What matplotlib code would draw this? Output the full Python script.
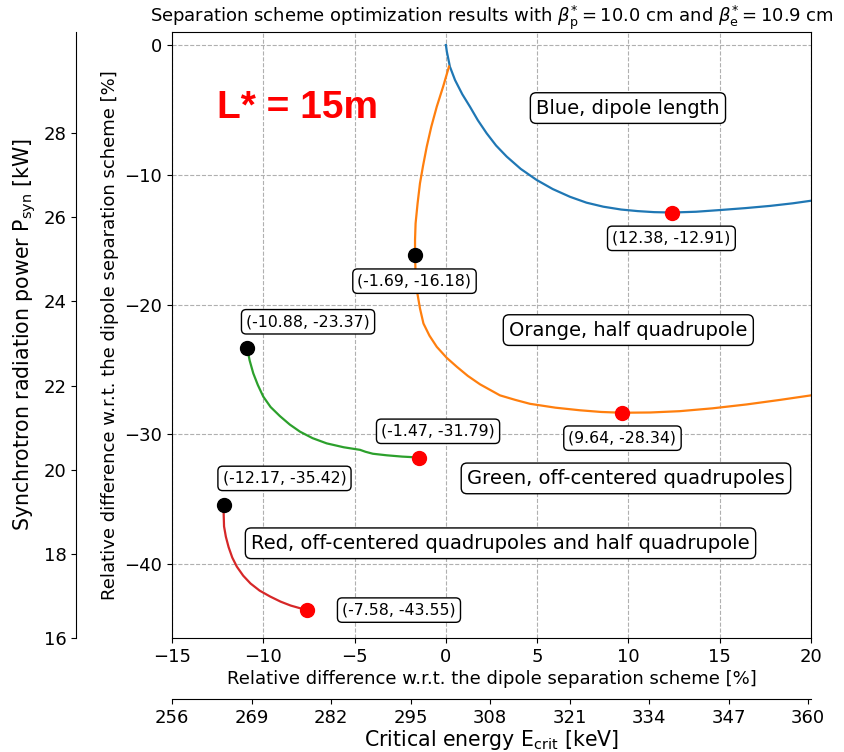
import matplotlib
matplotlib.use("Agg")
import matplotlib.pyplot as plt
import numpy as np

# ---- data ----
blue_x = [0.0, 0.05, 0.22, 0.5, 0.9, 1.32, 1.75, 2.23, 2.75, 3.33, 4.1, 4.97, 5.85, 6.8, 7.7,
          8.62, 9.6, 10.5, 11.4, 12.38, 13.7, 15.0, 16.4, 17.75, 19.0, 20.0]
blue_y = [0.0, -0.5, -1.67, -2.7, -3.8, -4.76, -5.8, -6.8, -7.75, -8.6, -9.55, -10.4, -11.1, -11.7, -12.15,
          -12.46, -12.68, -12.8, -12.88, -12.91, -12.85, -12.72, -12.57, -12.4, -12.2, -12.0]

orange_x = [0.17, -0.15, -0.5, -0.8, -1.05, -1.25, -1.42, -1.55, -1.66, -1.69, -1.69, -1.66, -1.56,
            -1.42, -1.23, -0.9, -0.5, 0.04, 0.6, 1.2, 1.87, 2.96, 3.8, 4.6, 6.0, 7.34, 8.5, 9.64,
            11.2, 12.8, 14.6, 16.47, 18.3, 20.0]
orange_y = [-1.66, -3.2, -4.75, -6.3, -7.84, -9.3, -10.66, -12.2, -13.75, -15.0, -16.18, -17.7, -19.15,
            -20.3, -21.46, -22.4, -23.26, -24.1, -24.8, -25.5, -26.15, -27.0, -27.35, -27.65, -27.95,
            -28.15, -28.28, -28.34, -28.32, -28.22, -28.0, -27.7, -27.35, -27.0]

green_x = [-10.88, -10.75, -10.55, -10.3, -10.0, -9.6, -9.09, -8.55, -7.99, -7.3, -6.53, -5.6, -4.7,
           -4.4, -4.0, -3.24, -2.4, -1.47]
green_y = [-23.37, -24.3, -25.3, -26.2, -27.1, -27.9, -28.6, -29.25, -29.8, -30.3, -30.7, -31.0, -31.2,
           -31.35, -31.5, -31.62, -31.72, -31.79]

red_x = [-12.17, -12.17, -12.15, -12.05, -11.9, -11.7, -11.45, -11.1, -10.7, -10.2, -9.63, -9.05,
         -8.5, -8.0, -7.58]
red_y = [-35.42, -36.2, -37.1, -37.9, -38.7, -39.5, -40.2, -40.9, -41.5, -42.05, -42.5, -42.9,
         -43.2, -43.4, -43.55]

start_pts = [(-1.69, -16.18), (-10.88, -23.37), (-12.17, -35.42)]
opt_pts = [(12.38, -12.91), (9.64, -28.34), (-1.47, -31.79), (-7.58, -43.55)]

# point label texts and their label positions
pt_labels = ["(12.38, -12.91)", "(-1.69, -16.18)", "(-10.88, -23.37)", "(-1.47, -31.79)",
             "(9.64, -28.34)", "(-12.17, -35.42)", "(-7.58, -43.55)"]
pt_label_pos = [(12.35, -14.9), (-1.72, -18.2), (-7.55, -21.33), (-0.43, -29.77),
                (9.67, -30.3), (-8.84, -33.4), (-2.57, -43.55)]

series_labels = ["Blue, dipole length", "Orange, half quadrupole",
                 "Green, off-centered quadrupoles",
                 "Red, off-centered quadrupoles and half quadrupole"]
series_label_pos = [(9.97, -4.86), (9.99, -21.97), (9.86, -33.4), (2.99, -38.4)]

power_ticks = [16, 18, 20, 22, 24, 26, 28]
ecrit_ticks = [256, 269, 282, 295, 308, 321, 334, 347, 360]

# ---- figure ----
fig = plt.figure(figsize=(8.44, 7.52), dpi=100)
ax = fig.add_axes([0.2038, 0.1516, 0.7572, 0.8058])

ax.plot(blue_x, blue_y, color="#1f77b4", lw=1.6)
ax.plot(orange_x, orange_y, color="#ff7f0e", lw=1.6)
ax.plot(green_x, green_y, color="#2ca02c", lw=1.6)
ax.plot(red_x, red_y, color="#d62728", lw=1.6)

for (x, y) in start_pts:
    ax.plot(x, y, "o", color="black", ms=10, zorder=5)
for (x, y) in opt_pts:
    ax.plot(x, y, "o", color="red", ms=10, zorder=5)

box = dict(boxstyle="round,pad=0.3", fc="white", ec="black", lw=1)
for t, (x, y) in zip(pt_labels, pt_label_pos):
    ax.text(x, y, t, ha="center", va="center", fontsize=11.3, bbox=box, zorder=6)
for t, (x, y) in zip(series_labels, series_label_pos):
    ax.text(x, y, t, ha="center", va="center", fontsize=14, bbox=box, zorder=6)

ax.text(-8.15, -4.86, "L* = 15m", color="red", fontsize=28, fontweight="bold",
        family="Liberation Sans", ha="center", va="center")

ax.set_xlim(-15, 20)
ax.set_ylim(-45.7, 1.0)
ax.set_xticks([-15, -10, -5, 0, 5, 10, 15, 20])
ax.set_yticks([0, -10, -20, -30, -40])
ax.grid(True, ls="--", color="#b0b0b0", lw=0.8)
ax.tick_params(labelsize=13)
ax.set_xlabel("Relative difference w.r.t. the dipole separation scheme [%]", fontsize=13, labelpad=3)
ax.set_ylabel("Relative difference w.r.t. the dipole separation scheme [%]", fontsize=13)
ax.set_title(r"Separation scheme optimization results with $\beta_{\mathrm{p}}^{*}=10.0$ cm and $\beta_{\mathrm{e}}^{*}=10.9$ cm",
             fontsize=13, pad=5)

# secondary left axis: power
ax2 = ax.twinx()
ax2.spines["right"].set_visible(False)
ax2.spines["top"].set_visible(False)
ax2.spines["bottom"].set_visible(False)
ax2.spines["left"].set_visible(True)
ax2.spines["left"].set_position(("outward", 69))
ax2.yaxis.set_label_position("left")
ax2.yaxis.set_ticks_position("left")
ax2.set_ylim(16, 30.4)
ax2.set_yticks(power_ticks)
ax2.tick_params(labelsize=13)
ax2.set_ylabel(r"Synchrotron radiation power $\mathrm{P_{syn}}$ [kW]", fontsize=14.8)

# secondary bottom axis: critical energy
ax3 = ax.twiny()
ax3.spines["top"].set_visible(False)
ax3.spines["left"].set_visible(False)
ax3.spines["right"].set_visible(False)
ax3.spines["bottom"].set_visible(True)
ax3.spines["bottom"].set_position(("outward", 44))
ax3.xaxis.set_label_position("bottom")
ax3.xaxis.set_ticks_position("bottom")
ax3.set_xlim(256, 360.5)
ax3.set_xticks(ecrit_ticks)
ax3.tick_params(labelsize=13)
ax3.set_xlabel(r"Critical energy $\mathrm{E_{crit}}$ [keV]", fontsize=14.8, labelpad=1)

fig.savefig("out.png", dpi=100)
